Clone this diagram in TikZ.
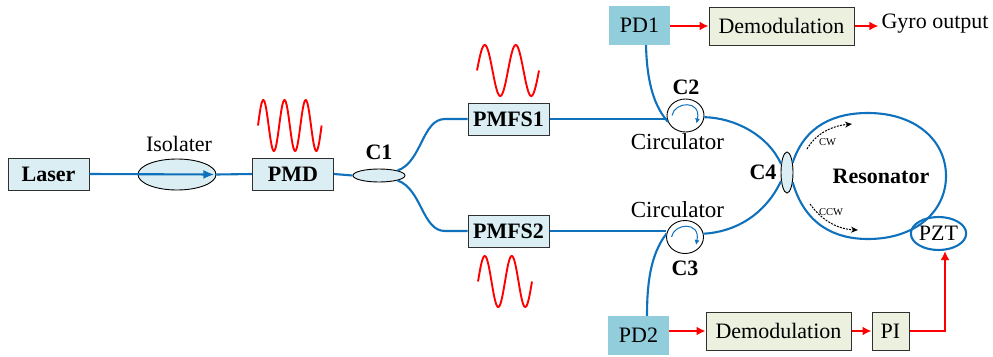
\documentclass[tikz,border=0pt]{standalone}
\usepackage{xcolor}
\usepackage{fontspec}
\setmainfont{Liberation Serif}
\usetikzlibrary{arrows.meta, shapes.geometric}
\definecolor{fiberblue}{HTML}{0F71BC}
\definecolor{boxblue}{HTML}{DAEEF3}
\definecolor{pdblue}{HTML}{92CDDC}
\definecolor{demodgreen}{HTML}{EBF1DE}
\definecolor{edgegray}{HTML}{303030}
\tikzset{
  txt/.style={inner sep=0pt, font=\fontsize{22}{26}\selectfont},
  boldtxt/.style={txt, font=\fontsize{22}{26}\selectfont\bfseries},
  smalltxt/.style={inner sep=0pt, font=\fontsize{10.5}{12}\selectfont},
  bluebox/.style={boldtxt, draw=edgegray, line width=1pt, fill=boxblue,
                  minimum width=81pt, minimum height=32pt},
  pdbox/.style={txt, fill=pdblue, minimum width=61pt, minimum height=39pt},
  demodbox/.style={txt, draw=edgegray, line width=1pt, fill=demodgreen, minimum height=38pt},
  coupler/.style={ellipse, draw=black, line width=0.9pt, fill=boxblue, inner sep=0pt},
  circulator/.style={ellipse, draw=black, line width=0.9pt, fill=white, inner sep=0pt,
                     minimum width=37pt, minimum height=33pt},
  fiber/.style={draw=fiberblue, line width=2.1pt},
  redline/.style={draw=red, line width=1.9pt},
  redarrow/.style={redline, -{Latex[length=9pt,width=9pt]}},
  turnarrow/.style={draw=fiberblue, line width=1pt, -{Latex[length=5pt,width=5pt]}},
  dirarrow/.style={draw=black, line width=1pt, dash pattern=on 2pt off 1.2pt,
                   -{Stealth[length=7pt,width=6pt]}}
}

\begin{document}
\begin{tikzpicture}[x=1pt, y=-1pt]
    \useasboundingbox (0,0) rectangle (993,356);

    \node[bluebox] (laser) at (48.5,174) {Laser};
    \node[coupler, minimum width=78pt, minimum height=31pt] (isolater) at (177,174.5) {};
    \node[txt] (isolaterlabel) at (179,144) {Isolater};
    \node[bluebox] (pmd) at (293,174) {PMD};
    \node[coupler, minimum width=52pt, minimum height=13pt] (c1) at (379,175.5) {};
    \node[boldtxt] (c1label) at (379,152) {C1};
    \node[bluebox] (pmfs1) at (508.5,119) {PMFS1};
    \node[bluebox] (pmfs2) at (508.5,231) {PMFS2};
    \node[pdbox] (pd1) at (639.5,25.5) {PD1};
    \node[pdbox] (pd2) at (638.5,335.5) {PD2};
    \node[circulator] (c2) at (685.5,115.5) {};
    \node[circulator] (c3) at (685,237) {};
    \node[boldtxt] (c2label) at (686,87) {C2};
    \node[boldtxt] (c3label) at (685,268) {C3};
    \node[txt, font=\fontsize{23}{26}\selectfont] (circ1) at (677.5,142) {Circulator};
    \node[txt, font=\fontsize{23}{26}\selectfont] (circ2) at (677.5,210) {Circulator};
    \node[coupler, minimum width=12pt, minimum height=41pt] (c4) at (787,172.5) {};
    \node[boldtxt] (c4label) at (763,172) {C4};
    \node[boldtxt] (resonator) at (881,176) {Resonator};
    \node[smalltxt] (cw) at (827.5,142) {CW};
    \node[smalltxt] (ccw) at (831,212) {CCW};
    \node[txt, ellipse, draw=fiberblue, line width=2.1pt, minimum width=49pt, minimum height=33pt] (pzt) at (938.5,233.5) {PZT};
    \node[demodbox, minimum width=145pt] (demod1) at (781.5,26) {Demodulation};
    \node[demodbox, minimum width=145pt] (demod2) at (778.5,331) {Demodulation};
    \node[demodbox, minimum width=37pt] (pi) at (890.5,331) {PI};
    \node[txt] (gyro) at (935,24) {Gyro output};

    % source branch
    \draw[fiber, -{Latex[length=11pt,width=9pt]}] (laser.east) -- ([xshift=-2pt]isolater.east);
    \draw[fiber] (isolater.east) -- (pmd.west);
    \draw[fiber] (pmd.east) -- (c1.west);
    \draw[fiber] (c1.15) .. controls (422,162) and (422,119) .. (445,119) -- (pmfs1.west);
    \draw[fiber] (c1.-15) .. controls (422,189) and (422,231) .. (445,231) -- (pmfs2.west);

    % circulators and resonator
    \draw[fiber] (pmfs1.east) -- (pmfs1.east -| c2.west);
    \draw[fiber] (pmfs2.east) -- (pmfs2.east -| c3.west);
    \draw[fiber] ([xshift=6.5pt]pd1.south) .. controls (647,85) and (655,107) .. (c2.200);
    \draw[fiber] ([xshift=8.5pt]pd2.north) .. controls (647,285) and (650,255) .. (c3.170);
    \draw[fiber] (c2.-5) .. controls (735,118) and (768,135) .. (c4.125);
    \draw[fiber] (c3.10) .. controls (735,232) and (765,215) .. (c4.235);
    \draw[fiber] (c4.60) .. controls (805,125) and (835,113) .. (868,113)
        .. controls (915,113) and (946,140) .. (946,176)
        .. controls (946,212) and (915,239) .. (868,239)
        .. controls (835,239) and (805,225) .. (c4.-60);

    % turning arrows in the circulators
    \foreach \circname in {c2,c3}
      \draw[turnarrow] ([shift={(-13.5,0)}]\circname.center) .. controls ([shift={(-11,-14)}]\circname.center)
          and ([shift={(16,-16)}]\circname.center) .. ([shift={(11,8)}]\circname.center);

    % propagation directions
    \coordinate (cwstart) at (807,149);
    \coordinate (cwend) at (852,124);
    \coordinate (ccwstart) at (810,204);
    \coordinate (ccwend) at (858,230);
    \draw[dirarrow] (cwstart) .. controls (815,135) and (830,126) .. (cwend);
    \draw[dirarrow] (ccwstart) .. controls (820,218) and (835,229) .. (ccwend);

    % red signal lines
    \draw[redarrow] (pd1.east |- demod1.west) -- (demod1.west);
    \draw[redarrow, shorten >=3pt] (demod1.east) -- (gyro.west |- demod1.east);
    \draw[redarrow] (pd2.east |- demod2.west) -- (demod2.west);
    \draw[redarrow] (demod2.east) -- (pi.west);
    \draw[redarrow] (pi.east) -| ([xshift=6.5pt]pzt.south);

    % modulation waves
    \foreach \wx/\wy/\wper/\wnum in {258/125.5/21.2/3, 477/70.5/31/2, 478/281.5/27/2}
      \draw[redline] plot[domain=0:\wnum*360, samples=90, smooth] ({\wx+\x/360*\wper},{\wy-25.5*sin(\x)});
\end{tikzpicture}
\end{document}
